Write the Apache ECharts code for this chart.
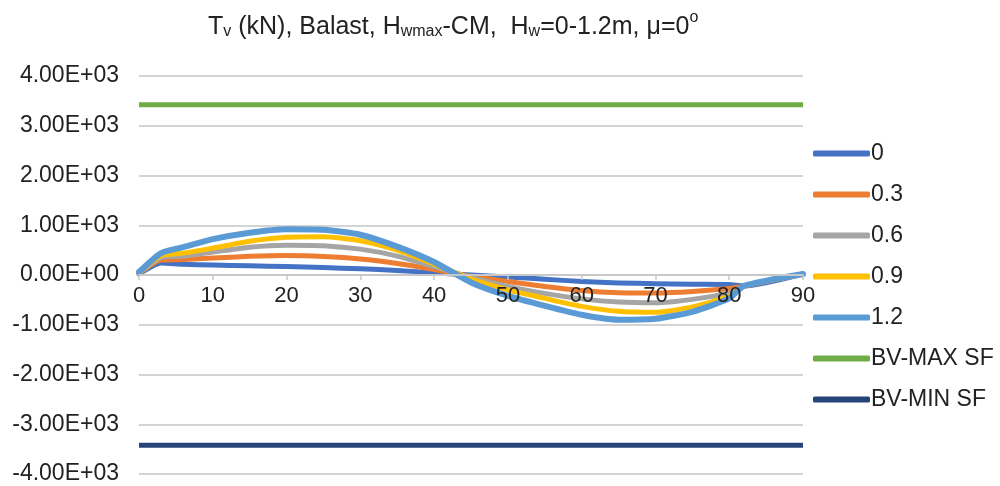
<!DOCTYPE html>
<html>
<head>
<meta charset="utf-8">
<script src="https://cdn.jsdelivr.net/npm/echarts@6/dist/echarts.min.js"></script>
<style>
  html, body { margin: 0; padding: 0; background: #fff; }
  #chart { width: 1000px; height: 486px; }
</style>
</head>
<body>
<div id="chart"></div>
<script>
// Angle positions (degrees) at which the vertical force was sampled
const angles = [0, 3, 6, 10, 15, 20, 25, 30, 35, 40, 45, 50, 55, 60, 65, 70, 75, 80, 82, 90];

// Tv (kN) for each water height Hw (m)
const hw0  = [20, 240, 215, 200, 185, 170, 150, 125, 90, 45, 0, -40, -85, -130, -160, -175, -185, -190, -220, 20];
const hw03 = [30, 300, 310, 340, 375, 390, 370, 320, 230, 110, -25, -130, -230, -310, -355, -360, -330, -270, -220, 20];
const hw06 = [40, 350, 380, 460, 560, 600, 590, 520, 380, 170, -50, -230, -370, -480, -545, -560, -490, -360, -220, 20];
const hw09 = [50, 390, 440, 540, 680, 760, 770, 690, 500, 220, -80, -300, -470, -630, -730, -750, -640, -430, -220, 20];
const hw12 = [60, 440, 560, 720, 850, 920, 910, 810, 570, 260, -150, -420, -620, -800, -900, -880, -740, -470, -220, 20];

// Safety-factor bounds
const bvMax = 3420;
const bvMin = -3420;

// Value axis range and tick step
const yMin = -4000, yMax = 4000, yStep = 1000;
const xMin = 0, xMax = 90, xStep = 10;

const seriesNames = ['0', '0.3', '0.6', '0.9', '1.2', 'BV-MAX SF', 'BV-MIN SF'];
const seriesColors = ['#4472C4', '#ED7D31', '#A5A5A5', '#FFC000', '#5B9BD5', '#70AD47', '#264478'];
const curves = [hw0, hw03, hw06, hw09, hw12];

const FONT = 'Liberation Sans';
const INK = '#222';

// Plot box
const W = 1000, H = 486;
const gridTop = 76, gridBottom = 12, gridLeft = 139, gridRight = 197;
const plotH = H - gridTop - gridBottom;
// Lift the x axis from the bottom edge up to the zero line
const zeroOffset = -plotH * (0 - yMin) / (yMax - yMin);

function pairs(xs, ys) {
  return xs.map((x, i) => [x, ys[i]]);
}

function sci(v) {
  const s = Number(v).toExponential(2).toUpperCase();
  return s.replace(/E([+-])(\d)$/, 'E$10$2');
}

const series = curves.map((ys, i) => ({
  name: seriesNames[i],
  type: 'line',
  data: pairs(angles, ys),
  smooth: 0.2,
  showSymbol: false,
  lineStyle: { color: seriesColors[i], width: i === 4 ? 6 : 5, cap: 'round', join: 'round' },
  itemStyle: { color: seriesColors[i] },
  z: 2 + i
}));

series.push({
  name: seriesNames[5], type: 'line', showSymbol: false,
  data: [[xMin, bvMax], [xMax, bvMax]],
  lineStyle: { color: seriesColors[5], width: 5 }, itemStyle: { color: seriesColors[5] }
});
series.push({
  name: seriesNames[6], type: 'line', showSymbol: false,
  data: [[xMin, bvMin], [xMax, bvMin]],
  lineStyle: { color: seriesColors[6], width: 5 }, itemStyle: { color: seriesColors[6] }
});

const chart = echarts.init(document.getElementById('chart'), null, { renderer: 'canvas' });
chart.setOption({
  animation: false,
  backgroundColor: '#ffffff',
  title: {
    text: '{n|T}{s|v}{n| (kN), Balast, H}{s|wmax}{n|-CM,  H}{s|w}{n|=0-1.2m, μ=0}{p|o}',
    left: 203,
    top: 5,
    textStyle: {
      fontWeight: 'normal',
      rich: {
        n: { fontFamily: FONT, fontSize: 25, fontWeight: 'normal', color: INK, lineHeight: 30, verticalAlign: 'bottom' },
        s: { fontFamily: FONT, fontSize: 16, fontWeight: 'normal', color: INK, lineHeight: 10, verticalAlign: 'bottom' },
        p: { fontFamily: FONT, fontSize: 16, fontWeight: 'normal', color: INK, lineHeight: 12, verticalAlign: 'top' }
      }
    }
  },
  legend: {
    orient: 'vertical',
    left: 808,
    top: 137,
    itemWidth: 57,
    itemHeight: 6,
    itemGap: 18,
    icon: 'roundRect',
    textStyle: { fontFamily: FONT, fontSize: 23, color: INK, padding: [0, 0, 0, -4] },
    data: seriesNames
  },
  grid: {
    left: gridLeft, right: gridRight, top: gridTop, bottom: gridBottom,
    containLabel: false, outerBoundsMode: 'none'
  },
  xAxis: {
    type: 'value',
    min: xMin, max: xMax, interval: xStep,
    position: 'bottom',
    offset: zeroOffset,
    z: 20,
    axisLine: { onZero: false, lineStyle: { color: '#c8c8c8', width: 2 } },
    axisTick: { show: true, length: 5, lineStyle: { color: '#c8c8c8', width: 1.5 } },
    axisLabel: { fontFamily: FONT, fontSize: 22, color: INK, margin: 10 },
    splitLine: { show: false }
  },
  yAxis: {
    type: 'value',
    min: yMin, max: yMax, interval: yStep,
    axisLine: { show: false, onZero: false },
    axisTick: { show: false },
    axisLabel: { fontFamily: FONT, fontSize: 23, color: INK, margin: 20, formatter: sci },
    splitLine: { lineStyle: { color: '#d4d4d4', width: 2 } }
  },
  series: series
});
</script>
</body>
</html>
